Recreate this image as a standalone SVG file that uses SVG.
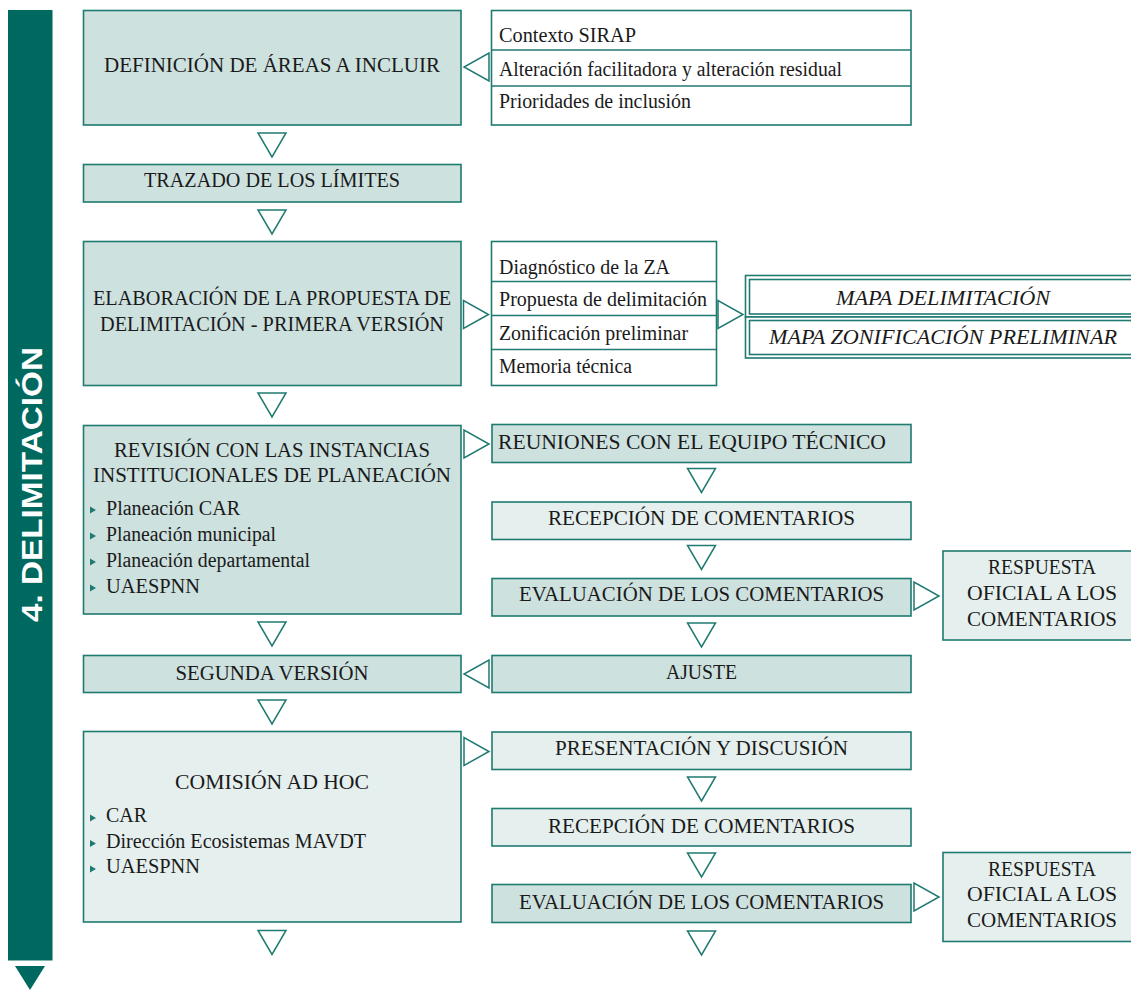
<svg xmlns="http://www.w3.org/2000/svg" width="1131" height="990" viewBox="0 0 1131 990">
<style>
.dk{fill:#cde1df;stroke:#1f7a71;stroke-width:1.6}
.lt{fill:#e5efee;stroke:#1f7a71;stroke-width:1.6}
.wh{fill:#ffffff;stroke:#1f7a71;stroke-width:1.6}
.ln{stroke:#1f7a71;stroke-width:1.6;fill:none}
.ar{fill:#ffffff;stroke:#1f7a71;stroke-width:1.5;stroke-linejoin:miter}
.bl{fill:#1f7a71}
text{font-family:"Liberation Serif","Times New Roman",serif;font-size:20px;fill:#1a1a1a}
.c{text-anchor:middle}
.it{font-style:italic}
.side{font-family:"Liberation Sans",Arial,sans-serif;font-weight:bold;font-size:30px;fill:#ffffff;text-anchor:middle}
</style>
<defs>
<polygon id="dn" class="ar" points="-14,0 14,0 0,24"/>
<polygon id="rt" class="ar" points="0,-14 0,14 25,0"/>
<polygon id="lf" class="ar" points="0,-14 0,14 -25,0"/>
<polygon id="bu" class="bl" points="0,-3.5 0,3.5 6,0"/>
</defs>

<g id="sidebar">
<rect x="8" y="10" width="44.5" height="950.5" fill="#00695f"/>
<polygon points="15,966 45,966 30,990" fill="#00695f"/>
<text class="side" x="42" y="484.5" transform="rotate(-90 42 484.5)" textLength="275" lengthAdjust="spacingAndGlyphs">4. DELIMITACIÓN</text>
</g>

<g id="connectors">
<use href="#dn" x="272" y="133"/>
<use href="#dn" x="272" y="210"/>
<use href="#dn" x="272" y="393"/>
<use href="#dn" x="272" y="622"/>
<use href="#dn" x="272" y="700"/>
<use href="#dn" x="272" y="930.5"/>
<use href="#lf" x="489" y="67"/>
<use href="#rt" x="463.5" y="314.5"/>
<use href="#rt" x="718" y="314.5"/>
<use href="#rt" x="464" y="444"/>
<use href="#dn" x="701.5" y="468.5"/>
<use href="#dn" x="701.5" y="545.5"/>
<use href="#rt" x="914" y="596"/>
<use href="#dn" x="701.5" y="623"/>
<use href="#lf" x="489" y="674"/>
<use href="#rt" x="464" y="751.5"/>
<use href="#dn" x="701.5" y="777"/>
<use href="#dn" x="701.5" y="853"/>
<use href="#rt" x="914" y="897"/>
<use href="#dn" x="701.5" y="931"/>
</g>

<g id="n-definicion">
<rect class="dk" x="83.5" y="10.5" width="377.5" height="114.5"/>
<text class="c" x="272" y="72" textLength="336" lengthAdjust="spacingAndGlyphs">DEFINICIÓN DE ÁREAS A INCLUIR</text>
</g>

<g id="n-lista1">
<rect class="wh" x="491.5" y="10.5" width="419.5" height="114.5"/>
<line class="ln" x1="491.5" y1="50" x2="911" y2="50"/>
<line class="ln" x1="491.5" y1="86" x2="911" y2="86"/>
<text x="499" y="42" textLength="137" lengthAdjust="spacingAndGlyphs">Contexto SIRAP</text>
<text x="499" y="75.5" textLength="343" lengthAdjust="spacingAndGlyphs">Alteración facilitadora y alteración residual</text>
<text x="499" y="107.5" textLength="192" lengthAdjust="spacingAndGlyphs">Prioridades de inclusión</text>
</g>

<g id="n-trazado">
<rect class="dk" x="83.5" y="164.5" width="377.5" height="37.5"/>
<text class="c" x="272" y="187" textLength="256" lengthAdjust="spacingAndGlyphs">TRAZADO DE LOS LÍMITES</text>
</g>

<g id="n-elaboracion">
<rect class="dk" x="83.5" y="241.5" width="377.5" height="144"/>
<text class="c" x="272" y="305" textLength="358" lengthAdjust="spacingAndGlyphs">ELABORACIÓN DE LA PROPUESTA DE</text>
<text class="c" x="272" y="331" textLength="344" lengthAdjust="spacingAndGlyphs">DELIMITACIÓN - PRIMERA VERSIÓN</text>
</g>

<g id="n-lista2">
<rect class="wh" x="491.5" y="241.5" width="225" height="144"/>
<line class="ln" x1="491.5" y1="281.5" x2="716.5" y2="281.5"/>
<line class="ln" x1="491.5" y1="315.5" x2="716.5" y2="315.5"/>
<line class="ln" x1="491.5" y1="349.5" x2="716.5" y2="349.5"/>
<text x="499" y="273.5" textLength="171" lengthAdjust="spacingAndGlyphs">Diagnóstico de la ZA</text>
<text x="499" y="306" textLength="208" lengthAdjust="spacingAndGlyphs">Propuesta de delimitación</text>
<text x="499" y="340" textLength="189" lengthAdjust="spacingAndGlyphs">Zonificación preliminar</text>
<text x="499" y="373" textLength="133" lengthAdjust="spacingAndGlyphs">Memoria técnica</text>
</g>

<g id="n-mapa-delimitacion">
<rect class="wh" x="745.5" y="275.5" width="390" height="41.5"/>
<rect class="ln" x="749.5" y="279.5" width="390" height="34.5"/>
<text class="c it" x="943" y="305" textLength="214" lengthAdjust="spacingAndGlyphs">MAPA DELIMITACIÓN</text>
</g>

<g id="n-mapa-zonificacion">
<rect class="wh" x="745.5" y="317" width="390" height="41"/>
<rect class="ln" x="749.5" y="320.5" width="390" height="34"/>
<text class="c it" x="943" y="343.5" textLength="348" lengthAdjust="spacingAndGlyphs">MAPA ZONIFICACIÓN PRELIMINAR</text>
</g>

<g id="n-revision">
<rect class="dk" x="83.5" y="425.5" width="377.5" height="188.5"/>
<text class="c" x="272" y="457" textLength="316" lengthAdjust="spacingAndGlyphs">REVISIÓN CON LAS INSTANCIAS</text>
<text class="c" x="272" y="482" textLength="358" lengthAdjust="spacingAndGlyphs">INSTITUCIONALES DE PLANEACIÓN</text>
<use href="#bu" x="90" y="510"/>
<text x="106" y="515" textLength="134" lengthAdjust="spacingAndGlyphs">Planeación CAR</text>
<use href="#bu" x="90" y="536"/>
<text x="106" y="541" textLength="170" lengthAdjust="spacingAndGlyphs">Planeación municipal</text>
<use href="#bu" x="90" y="562"/>
<text x="106" y="567" textLength="204" lengthAdjust="spacingAndGlyphs">Planeación departamental</text>
<use href="#bu" x="90" y="588"/>
<text x="106" y="592.5" textLength="94" lengthAdjust="spacingAndGlyphs">UAESPNN</text>
</g>

<g id="n-reuniones">
<rect class="dk" x="492" y="424.5" width="419" height="38"/>
<text class="c" x="692" y="448.5" textLength="388" lengthAdjust="spacingAndGlyphs">REUNIONES CON EL EQUIPO TÉCNICO</text>
</g>

<g id="n-recepcion1">
<rect class="lt" x="492" y="502" width="419" height="37.5"/>
<text class="c" x="701.5" y="525" textLength="307" lengthAdjust="spacingAndGlyphs">RECEPCIÓN DE COMENTARIOS</text>
</g>

<g id="n-evaluacion1">
<rect class="dk" x="492" y="578.5" width="419" height="37.5"/>
<text class="c" x="701.5" y="601" textLength="365" lengthAdjust="spacingAndGlyphs">EVALUACIÓN DE LOS COMENTARIOS</text>
</g>

<g id="n-respuesta1">
<rect class="lt" x="943" y="551" width="190" height="89"/>
<text class="c" x="1042" y="574" textLength="108" lengthAdjust="spacingAndGlyphs">RESPUESTA</text>
<text class="c" x="1042" y="600" textLength="150" lengthAdjust="spacingAndGlyphs">OFICIAL A LOS</text>
<text class="c" x="1042" y="625.5" textLength="150" lengthAdjust="spacingAndGlyphs">COMENTARIOS</text>
</g>

<g id="n-segunda">
<rect class="dk" x="83.5" y="655.5" width="377.5" height="37"/>
<text class="c" x="272" y="679.5" textLength="193" lengthAdjust="spacingAndGlyphs">SEGUNDA VERSIÓN</text>
</g>

<g id="n-ajuste">
<rect class="dk" x="492" y="655.5" width="419" height="37"/>
<text class="c" x="701.5" y="678.5" textLength="71" lengthAdjust="spacingAndGlyphs">AJUSTE</text>
</g>

<g id="n-comision">
<rect class="lt" x="83.5" y="731.5" width="377.5" height="190.5"/>
<text class="c" x="272" y="789" textLength="194" lengthAdjust="spacingAndGlyphs">COMISIÓN AD HOC</text>
<use href="#bu" x="90" y="818"/>
<text x="106" y="822" textLength="41" lengthAdjust="spacingAndGlyphs">CAR</text>
<use href="#bu" x="90" y="843.5"/>
<text x="106" y="847.5" textLength="260" lengthAdjust="spacingAndGlyphs">Dirección Ecosistemas MAVDT</text>
<use href="#bu" x="90" y="869"/>
<text x="106" y="873" textLength="94" lengthAdjust="spacingAndGlyphs">UAESPNN</text>
</g>

<g id="n-presentacion">
<rect class="lt" x="492" y="732" width="419" height="37.5"/>
<text class="c" x="701.5" y="755" textLength="293" lengthAdjust="spacingAndGlyphs">PRESENTACIÓN Y DISCUSIÓN</text>
</g>

<g id="n-recepcion2">
<rect class="lt" x="492" y="808.5" width="419" height="37.5"/>
<text class="c" x="701.5" y="832.5" textLength="307" lengthAdjust="spacingAndGlyphs">RECEPCIÓN DE COMENTARIOS</text>
</g>

<g id="n-evaluacion2">
<rect class="dk" x="492" y="884.5" width="419" height="38"/>
<text class="c" x="701.5" y="908.5" textLength="365" lengthAdjust="spacingAndGlyphs">EVALUACIÓN DE LOS COMENTARIOS</text>
</g>

<g id="n-respuesta2">
<rect class="lt" x="943" y="852.5" width="190" height="89"/>
<text class="c" x="1042" y="876" textLength="108" lengthAdjust="spacingAndGlyphs">RESPUESTA</text>
<text class="c" x="1042" y="901" textLength="150" lengthAdjust="spacingAndGlyphs">OFICIAL A LOS</text>
<text class="c" x="1042" y="926.5" textLength="150" lengthAdjust="spacingAndGlyphs">COMENTARIOS</text>
</g>
</svg>
